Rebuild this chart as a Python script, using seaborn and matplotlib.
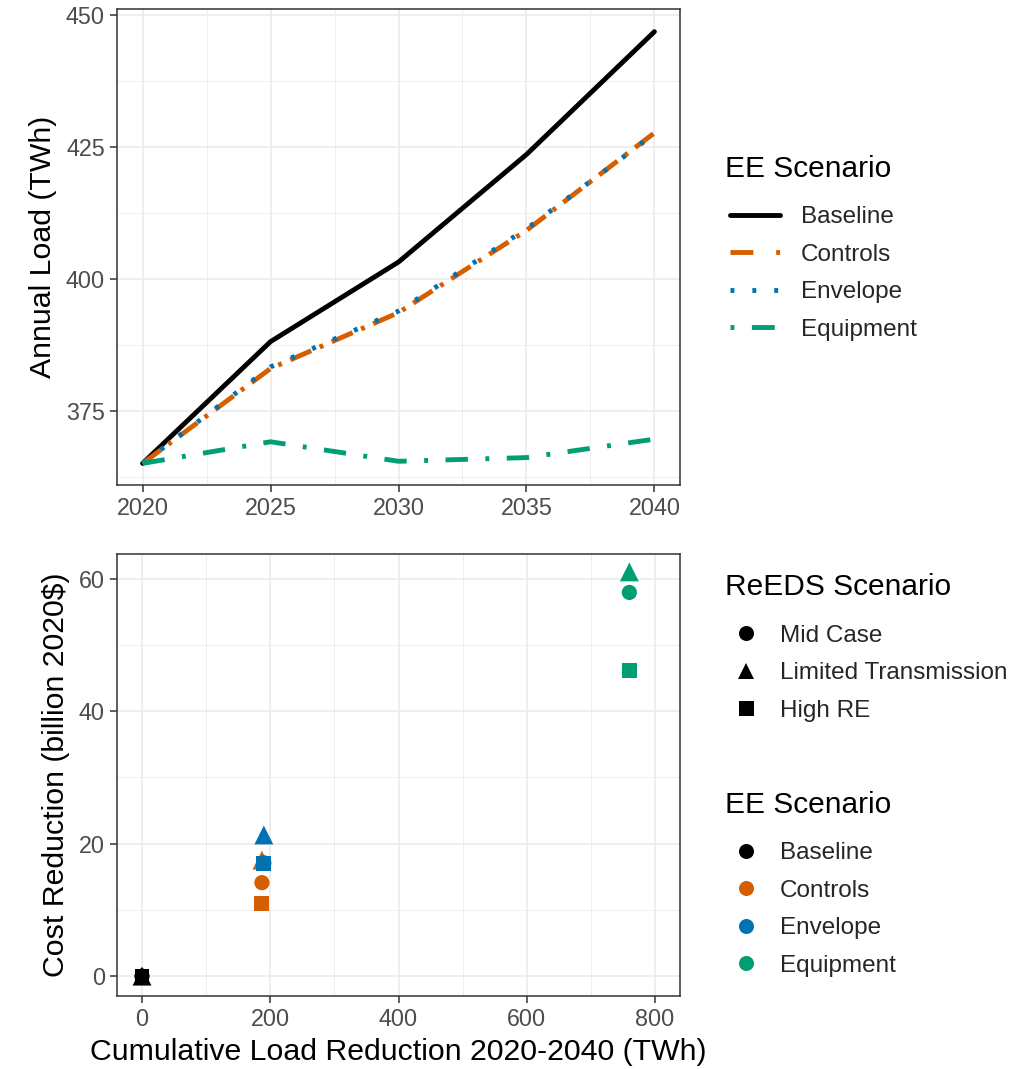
import matplotlib
matplotlib.use("Agg")
import matplotlib.pyplot as plt
from matplotlib.lines import Line2D
from matplotlib.ticker import MultipleLocator
import pandas as pd
import seaborn as sns

# ---- data -------------------------------------------------------------
years = [2020, 2025, 2030, 2035, 2040]
baseline_load = [365.0, 388.1, 403.2, 423.6, 446.9]
controls_load = [365.0, 383.0, 393.6, 409.2, 427.7]
envelope_load = [365.0, 383.3, 393.9, 409.5, 427.5]
equipment_load = [365.0, 369.1, 365.4, 366.1, 369.6]

ee_scenarios = ["Baseline", "Controls", "Envelope", "Equipment"]
reeds_scenarios = ["Mid Case", "Limited Transmission", "High RE"]

# cumulative 2020-2040 load reduction (TWh) per EE scenario
load_reduction = [0, 187, 190, 760]
# cost reduction (billion 2020$) per EE scenario, one list per ReEDS scenario
cost_mid_case = [0.0, 14.1, 17.1, 57.9]
cost_limited_tx = [0.0, 17.5, 21.3, 61.0]
cost_high_re = [0.0, 10.9, 17.0, 46.1]

ee_colors = ["#000000", "#D55E00", "#0072B2", "#009E73"]

# ---- tidy frames ------------------------------------------------------
load_df = pd.DataFrame({
    "Year": years * 4,
    "Load": baseline_load + controls_load + envelope_load + equipment_load,
    "EE Scenario": sum([[s] * len(years) for s in ee_scenarios], []),
})

rows = []
for i, ee in enumerate(ee_scenarios):
    for reeds, costs in zip(reeds_scenarios,
                            [cost_mid_case, cost_limited_tx, cost_high_re]):
        rows.append({"EE Scenario": ee, "ReEDS Scenario": reeds,
                     "Load Reduction": load_reduction[i], "Cost": costs[i]})
cost_df = pd.DataFrame(rows)

palette = dict(zip(ee_scenarios, ee_colors))
LW = 3.5
dash_map = {"Baseline": "",
            "Controls": (4.7, 1.9, 0.8, 1.9),
            "Envelope": (0.8, 3.9),
            "Equipment": (4.6, 3.6, 0.8, 3.6)}
legend_dash = {"Baseline": None,
               "Controls": (4.7, 4.7, 0.8, 4.5),
               "Envelope": (0.8, 3.7),
               "Equipment": (0.8, 3.6, 4.7, 3.6)}
marker_map = {"Mid Case": "o", "Limited Transmission": "^", "High RE": "s"}
marker_area = {"Mid Case": 120, "Limited Transmission": 185, "High RE": 115}

TITLE_FS = 21.8
LEGEND_TITLE_FS = 21.5
LEGEND_FS = 17.5
TICK_FS = 16.8

# ---- style ------------------------------------------------------------
sns.set_theme(style="white")
plt.rcParams["font.family"] = ["Liberation Sans", "DejaVu Sans"]
plt.rcParams["axes.unicode_minus"] = False

W, H = 1028, 1069
fig = plt.figure(figsize=(W / 100, H / 100), dpi=100)

def px_axes(left, top, right, bottom):
    return fig.add_axes([left / W, 1 - bottom / H, (right - left) / W,
                         (bottom - top) / H])

ax1 = px_axes(117, 9, 680, 485)
ax2 = px_axes(117, 554, 680, 996)

def style_axes(ax):
    ax.set_facecolor("white")
    for sp in ax.spines.values():
        sp.set_color("#333333")
        sp.set_linewidth(1.1)
        sp.set_visible(True)
    ax.grid(True, which="major", color="#EBEBEB", linewidth=1.2, zorder=0)
    ax.grid(True, which="minor", color="#EBEBEB", linewidth=0.6, zorder=0)
    ax.set_axisbelow(True)
    ax.tick_params(axis="both", which="major", direction="out", length=5.3,
                   width=1.1, color="#333333", labelsize=TICK_FS,
                   labelcolor="#4D4D4D", pad=3.5, bottom=True, left=True)
    ax.tick_params(axis="both", which="minor", length=0)

# ---- top: annual load -------------------------------------------------
sns.lineplot(data=load_df, x="Year", y="Load", hue="EE Scenario",
             style="EE Scenario", palette=palette, dashes=dash_map,
             linewidth=LW, legend=False, ax=ax1)
style_axes(ax1)
ax1.set_xlim(2019, 2041)
ax1.set_ylim(360.9, 451.2)
ax1.xaxis.set_major_locator(MultipleLocator(5))
ax1.xaxis.set_minor_locator(MultipleLocator(2.5))
ax1.yaxis.set_major_locator(MultipleLocator(25))
ax1.yaxis.set_minor_locator(MultipleLocator(12.5))
ax1.set_xlabel("")
ax1.set_ylabel("Annual Load (TWh)", fontsize=TITLE_FS, color="black",
               labelpad=6)

# ---- bottom: cost vs load reduction ----------------------------------
sns.scatterplot(data=cost_df, x="Load Reduction", y="Cost", hue="EE Scenario",
                style="ReEDS Scenario", size="ReEDS Scenario",
                palette=palette, markers=marker_map, sizes=marker_area,
                linewidth=0, legend=False, ax=ax2, zorder=3)
style_axes(ax2)
ax2.set_xlim(-39, 839)
ax2.set_ylim(-3.0, 63.7)
ax2.xaxis.set_major_locator(MultipleLocator(200))
ax2.xaxis.set_minor_locator(MultipleLocator(100))
ax2.yaxis.set_major_locator(MultipleLocator(20))
ax2.yaxis.set_minor_locator(MultipleLocator(10))
ax2.set_xlabel("Cumulative Load Reduction 2020-2040 (TWh)",
               fontsize=TITLE_FS, color="black", labelpad=5)
ax2.set_ylabel("Cost Reduction (billion 2020$)", fontsize=TITLE_FS,
               color="black", labelpad=6)

# ---- legends ----------------------------------------------------------
def legend_block(handles, labels, title, title_baseline, first_top,
                 handlelength, handletextpad):
    fig.text(725 / W, 1 - title_baseline / H, title, fontsize=LEGEND_TITLE_FS,
             ha="left", va="baseline", color="black")
    fig.legend(handles, labels, frameon=False, fontsize=LEGEND_FS,
               loc="upper left", bbox_to_anchor=(730 / W, 1 - first_top / H),
               borderpad=0, borderaxespad=0, handlelength=handlelength,
               handletextpad=handletextpad, labelspacing=0.64)

line_handles = []
for ee, col in zip(ee_scenarios, ee_colors):
    h = Line2D([], [], color=col, linewidth=LW)
    if legend_dash[ee] is not None:
        h.set_dashes(legend_dash[ee])
    line_handles.append(h)
legend_block(line_handles, ee_scenarios, "EE Scenario", 177, 206,
             2.06, 0.86)

shape_handles = [Line2D([], [], linestyle="none", marker=marker_map[r],
                        markersize=11.2 if r == "Limited Transmission" else 10.8,
                        color="black", markeredgewidth=0)
                 for r in reeds_scenarios]
legend_block(shape_handles, reeds_scenarios, "ReEDS Scenario", 595, 624.5,
             1.32, 0.74)

color_handles = [Line2D([], [], linestyle="none", marker="o", markersize=10.8,
                        color=c, markeredgewidth=0) for c in ee_colors]
legend_block(color_handles, ee_scenarios, "EE Scenario", 813, 842,
             1.32, 0.74)

fig.savefig("out.png", dpi=100, facecolor="white")
